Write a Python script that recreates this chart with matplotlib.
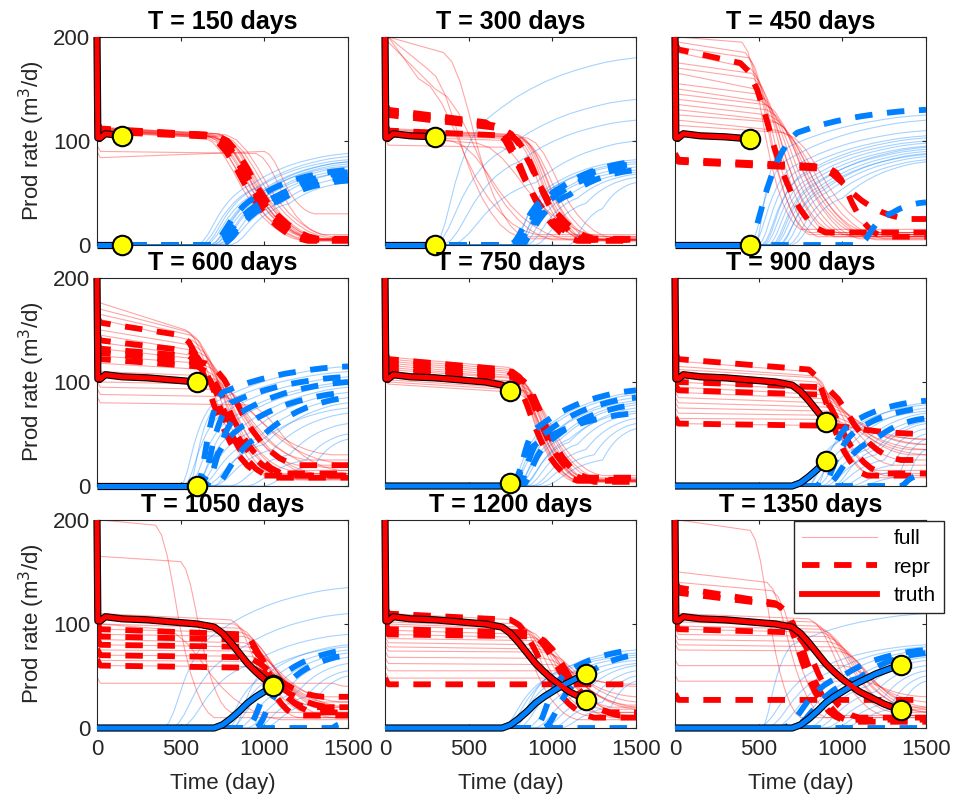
import numpy as np
import matplotlib.pyplot as plt

plt.rcParams['font.family'] = ['Liberation Sans', 'DejaVu Sans']

RED = (1, 0, 0)
BLUE = (0, 0.5, 1)

# czasy zapisu (T) dla kolejnych paneli
T_list = [150, 300, 450, 600, 750, 900, 1050, 1200, 1350]

# rozwiazanie "truth"
truth_t = [0, 5, 20, 50, 150, 300, 450, 600, 700, 750, 800, 850, 900, 950,
           1000, 1050, 1100, 1150, 1200, 1250, 1300, 1350]
truth_oil = [200, 103, 103, 107, 105, 104, 102, 100, 97, 91, 82, 72, 62, 54,
             47, 41, 35, 31, 27, 23, 20, 17]
truth_wat = [0, 0, 0, 0, 0, 0, 0, 0, 0, 3, 9, 16, 24, 30,
             35, 40, 44, 48, 52, 55, 58, 61]

# ensemble ropy: (q start, q przed spadkiem, t poczatku spadku, t konca spadku, q koncowe)
oil_full = [
    [(112, 106, 650, 1250, 5), (110, 105, 680, 1280, 5), (111, 104, 700, 1300, 6), (113, 107, 720, 1320, 5),
     (109, 103, 660, 1250, 4), (110, 104, 740, 1350, 6), (112, 106, 690, 1300, 5), (108, 103, 710, 1300, 5),
     (111, 105, 750, 1380, 7), (110, 104, 630, 1230, 4), (113, 106, 770, 1400, 8), (109, 104, 700, 1340, 6),
     (111, 105, 660, 1300, 5), (112, 107, 730, 1330, 6), (90, 88, 950, 1350, 10), (84, 90, 1000, 1300, 30)],
    [(108, 104, 780, 1200, 5), (110, 106, 800, 1220, 4), (106, 102, 820, 1250, 6), (112, 106, 790, 1200, 5),
     (104, 100, 830, 1300, 5), (109, 104, 810, 1250, 4), (107, 103, 850, 1350, 7), (111, 105, 760, 1180, 5),
     (200, 170, 250, 800, 8), (200, 185, 350, 850, 6), (200, 160, 200, 900, 10), (195, 150, 300, 1000, 5),
     (96, 94, 700, 1200, 5), (108, 100, 400, 1100, 5), (104, 98, 550, 1300, 8)],
    [(200, 195, 400, 750, 15), (195, 185, 420, 800, 12), (190, 180, 440, 800, 10), (185, 170, 450, 850, 8),
     (175, 165, 460, 900, 10), (170, 160, 470, 950, 8), (165, 150, 480, 950, 12), (155, 145, 500, 1000, 10),
     (150, 138, 520, 1050, 8), (145, 135, 540, 1100, 6), (140, 130, 550, 1100, 10), (135, 125, 560, 1150, 8),
     (130, 120, 580, 1200, 5), (125, 118, 600, 1150, 12), (120, 110, 620, 1250, 6), (115, 108, 650, 1300, 8)],
    [(176, 150, 530, 1000, 10), (170, 148, 550, 1050, 8), (165, 145, 560, 1100, 12), (160, 140, 570, 1100, 6),
     (150, 135, 580, 1150, 15), (145, 130, 590, 1200, 20), (138, 125, 600, 1150, 8), (132, 122, 610, 1250, 25),
     (125, 118, 620, 1300, 12), (118, 112, 640, 1200, 6), (110, 106, 650, 1350, 18), (100, 98, 680, 1400, 30),
     (95, 93, 700, 1300, 10), (88, 86, 750, 1450, 22), (80, 78, 900, 1450, 15)],
    [(122, 112, 750, 1150, 5), (120, 110, 760, 1170, 6), (118, 108, 780, 1200, 4), (116, 106, 770, 1150, 5),
     (114, 104, 790, 1210, 6), (112, 103, 800, 1230, 5), (110, 101, 760, 1150, 4), (108, 100, 810, 1250, 7),
     (106, 98, 780, 1190, 5), (104, 96, 820, 1270, 8), (102, 94, 800, 1210, 6), (100, 92, 830, 1300, 10),
     (98, 90, 790, 1200, 5), (124, 114, 740, 1130, 4)],
    [(120, 110, 800, 1200, 8), (115, 106, 820, 1250, 10), (110, 100, 840, 1200, 15), (105, 96, 850, 1300, 20),
     (100, 92, 860, 1350, 25), (95, 88, 870, 1400, 30), (90, 84, 880, 1400, 35), (85, 80, 880, 1450, 40),
     (80, 76, 890, 1450, 45), (75, 72, 900, 1500, 40), (70, 68, 900, 1500, 35), (65, 64, 920, 1500, 30),
     (60, 58, 950, 1500, 45), (112, 104, 850, 1150, 12)],
    [(200, 195, 350, 700, 10), (165, 160, 500, 800, 15), (110, 104, 800, 1200, 10), (105, 100, 820, 1250, 15),
     (100, 96, 850, 1300, 20), (95, 92, 860, 1350, 25), (90, 88, 880, 1400, 15), (85, 82, 880, 1350, 30),
     (80, 78, 900, 1400, 20), (75, 74, 900, 1450, 25), (70, 69, 920, 1400, 10), (65, 64, 950, 1450, 15),
     (60, 59, 950, 1500, 20), (43, 43, 1400, 1500, 40), (100, 95, 400, 1100, 8)],
    [(110, 104, 780, 1200, 12), (106, 100, 800, 1250, 15), (102, 97, 820, 1300, 18), (98, 94, 850, 1350, 20),
     (94, 90, 860, 1350, 10), (90, 87, 880, 1400, 15), (86, 84, 900, 1450, 22), (82, 80, 900, 1450, 12),
     (78, 76, 920, 1500, 18), (74, 73, 950, 1500, 25), (68, 67, 950, 1500, 20), (62, 61, 1000, 1500, 30),
     (55, 55, 1050, 1500, 40), (48, 48, 1100, 1500, 42), (100, 96, 750, 1150, 8)],
    [(200, 190, 450, 750, 10), (150, 140, 550, 900, 10), (140, 132, 580, 950, 12), (110, 105, 800, 1250, 12),
     (106, 102, 820, 1300, 15), (102, 98, 850, 1350, 18), (98, 95, 870, 1400, 20), (95, 92, 880, 1400, 12),
     (90, 88, 900, 1450, 16), (85, 83, 920, 1500, 20), (80, 78, 950, 1500, 15), (75, 74, 980, 1500, 18),
     (60, 60, 1000, 1500, 25), (45, 45, 1100, 1500, 30)],
]

oil_repr = [
    [(110, 106, 680, 1280, 5), (111, 105, 720, 1320, 6), (109, 104, 700, 1300, 5), (112, 106, 650, 1260, 4)],
    [(130, 118, 600, 1200, 5), (128, 115, 650, 1150, 4), (125, 112, 700, 1250, 6), (110, 105, 750, 1200, 5)],
    [(188, 175, 390, 900, 12), (82, 76, 830, 1400, 25), (80, 73, 930, 1250, 8)],
    [(157, 145, 500, 1000, 10), (140, 130, 550, 1050, 8), (132, 125, 550, 1100, 12), (122, 115, 600, 1150, 10),
     (128, 118, 650, 1200, 20)],
    [(122, 112, 720, 1150, 5), (118, 110, 760, 1200, 6), (114, 106, 780, 1250, 4), (110, 104, 800, 1210, 8)],
    [(122, 112, 800, 1150, 10), (92, 88, 850, 1250, 12), (60, 58, 900, 1500, 50), (100, 95, 880, 1350, 25)],
    [(95, 90, 880, 1200, 12), (88, 85, 880, 1250, 20), (80, 78, 900, 1300, 15), (70, 68, 880, 1350, 30),
     (60, 58, 900, 1400, 20)],
    [(110, 104, 750, 1250, 10), (95, 92, 850, 1350, 15), (42, 42, 1400, 1500, 42), (90, 88, 900, 1400, 12)],
    [(135, 120, 600, 1000, 8), (130, 118, 620, 1050, 6), (27, 27, 1400, 1500, 27), (95, 92, 700, 1100, 10)],
]

# ensemble wody: (t przebicia, t kolana, q w kolanie, q koncowe)
wat_full = [
    [(620, 950, 55, 85), (650, 980, 52, 80), (680, 1000, 50, 78), (700, 1020, 48, 75), (720, 1050, 50, 72),
     (600, 920, 58, 88), (750, 1080, 45, 70), (640, 960, 55, 82), (700, 1000, 52, 76), (760, 1100, 40, 65),
     (680, 980, 50, 80), (730, 1040, 46, 70), (800, 1150, 40, 60)],
    [(300, 600, 120, 180), (300, 700, 90, 140), (350, 800, 80, 120), (400, 900, 60, 100), (750, 1000, 55, 80),
     (780, 1050, 52, 75), (800, 1050, 50, 72), (820, 1100, 48, 70), (760, 1000, 58, 82), (850, 1150, 45, 68),
     (800, 1000, 55, 78), (900, 1200, 40, 65), (1100, 1300, 35, 60)],
    [(450, 650, 80, 120), (470, 700, 75, 110), (500, 720, 70, 105), (520, 750, 65, 100), (540, 780, 62, 98),
     (560, 800, 60, 95), (580, 820, 58, 92), (600, 850, 55, 90), (620, 880, 52, 88), (650, 900, 50, 85),
     (680, 950, 48, 82), (700, 1000, 45, 80), (480, 620, 90, 125), (530, 760, 68, 103), (590, 830, 57, 94),
     (630, 870, 54, 87)],
    [(500, 700, 80, 115), (520, 750, 70, 105), (550, 800, 65, 100), (580, 850, 55, 95), (600, 900, 50, 90),
     (620, 950, 45, 85), (650, 1000, 40, 80), (700, 1050, 35, 70), (800, 1150, 30, 60), (900, 1250, 25, 50),
     (1000, 1300, 20, 45), (550, 700, 75, 110), (600, 800, 60, 98), (700, 950, 40, 75)],
    [(750, 950, 55, 90), (760, 1000, 50, 85), (780, 1050, 48, 80), (800, 1050, 45, 78), (820, 1100, 42, 75),
     (850, 1150, 40, 70), (800, 1000, 50, 82), (770, 950, 52, 88), (880, 1200, 35, 65), (900, 1250, 30, 60),
     (950, 1300, 25, 55), (830, 1100, 45, 72)],
    [(800, 1000, 45, 80), (820, 1050, 40, 75), (850, 1100, 38, 70), (880, 1150, 35, 65), (900, 1200, 30, 60),
     (950, 1250, 25, 55), (1000, 1300, 20, 50), (1050, 1350, 15, 45), (1100, 1400, 10, 35), (850, 1000, 50, 78),
     (800, 950, 40, 72), (950, 1200, 35, 62)],
    [(400, 700, 90, 135), (450, 800, 70, 110), (500, 900, 60, 90), (750, 1000, 50, 80), (780, 1050, 48, 75),
     (800, 1100, 45, 72), (850, 1150, 40, 68), (900, 1200, 35, 62), (950, 1250, 30, 55), (1000, 1300, 25, 50),
     (820, 1000, 55, 78)],
    [(700, 1000, 50, 70), (750, 1050, 48, 68), (800, 1100, 45, 65), (850, 1150, 40, 62), (900, 1200, 35, 60),
     (950, 1250, 30, 55), (1000, 1300, 25, 50), (1050, 1350, 20, 45), (780, 1000, 52, 72), (720, 1050, 55, 75)],
    [(500, 900, 60, 80), (550, 950, 55, 78), (600, 1000, 50, 75), (700, 1050, 45, 70), (750, 1100, 42, 68),
     (800, 1150, 40, 65), (850, 1200, 35, 60), (900, 1250, 30, 55), (950, 1300, 25, 50), (1000, 1350, 20, 45),
     (520, 700, 80, 110)],
]

wat_repr = [
    [(700, 1050, 45, 65), (720, 1100, 48, 70), (680, 1000, 50, 72), (740, 1080, 42, 62)],
    [(750, 1000, 50, 78), (780, 1050, 55, 80), (800, 1100, 48, 72), (820, 1000, 45, 75)],
    [(430, 730, 108, 130), (1100, 1300, 31, 41)],
    [(600, 750, 90, 115), (620, 800, 80, 105), (650, 850, 70, 100), (600, 900, 60, 90), (700, 1000, 50, 85)],
    [(780, 900, 55, 92), (800, 950, 50, 85), (820, 1000, 45, 78), (760, 900, 40, 70)],
    [(850, 1050, 60, 82), (880, 1100, 55, 75), (900, 1200, 45, 65), (1350, 1450, 10, 15)],
    [(900, 1100, 50, 75), (950, 1150, 45, 70), (1400, 1480, 5, 8)],
    [(900, 1100, 55, 75), (950, 1200, 50, 70), (1450, 1490, 2, 3)],
    [(650, 1000, 50, 75), (700, 1100, 48, 72), (1450, 1490, 2, 3)],
]

# ksztalt przejscia (ulamek czasu -> ulamek zmiany), zeby krzywe nie byly lamane
step_frac_t = [0, 0.1, 0.2, 0.3, 0.4, 0.5, 0.6, 0.7, 0.8, 0.9, 1]
step_frac_q = [0, 0.05, 0.16, 0.32, 0.5, 0.65, 0.77, 0.86, 0.93, 0.975, 1]
rise_frac_q = [0, 0.06, 0.18, 0.34, 0.5, 0.63, 0.74, 0.83, 0.9, 0.96, 1]
tail_frac_q = [0, 0.19, 0.36, 0.5, 0.62, 0.72, 0.8, 0.87, 0.93, 0.97, 1]


def oil_curve(c):
    qs, qb, t1, t2, qe = c
    t2 = min(t2, 1500)
    x = [0, 20] + [t1 + f * (t2 - t1) for f in step_frac_t] + [1500]
    y = [qs + 6, qs] + [qb + f * (qe - qb) for f in step_frac_q] + [qe]
    return x, y


def wat_curve(c):
    ts, tk, qk, qe = c
    x = [0] + [ts + f * (tk - ts) for f in step_frac_t] + [tk + f * (1500 - tk) for f in step_frac_t[1:]]
    y = [0] + [f * qk for f in rise_frac_q] + [qk + f * (qe - qk) for f in tail_frac_q[1:]]
    return x, y


fig = plt.figure(figsize=(9.54, 8.07), dpi=100)
W, H = 954, 807
lefts = [97, 385, 675]
tops = [37, 278, 520]
aw, ah = 251, 208

for k, T in enumerate(T_list):
    r, c = divmod(k, 3)
    ax = fig.add_axes([lefts[c] / W, 1 - (tops[r] + ah) / H, aw / W, ah / H])

    for cv in oil_full[k]:
        x, y = oil_curve(cv)
        ax.plot(x, y, color=RED, lw=0.8, alpha=0.35)
    for cv in wat_full[k]:
        x, y = wat_curve(cv)
        ax.plot(x, y, color=BLUE, lw=0.8, alpha=0.35)
    for cv in oil_repr[k]:
        x, y = oil_curve(cv)
        ax.plot(x, y, color=RED, lw=4.2, dashes=(3, 2.5))
    for cv in wat_repr[k]:
        x, y = wat_curve(cv)
        ax.plot(x, y, color=BLUE, lw=4.2, dashes=(3, 2.5))

    n = truth_t.index(T) + 1
    tt = truth_t[:n]
    for q, col in [(truth_wat, BLUE), (truth_oil, RED)]:
        ax.plot(tt, q[:n], color='k', lw=5.2, clip_on=False, solid_capstyle='butt', zorder=5)
        ax.plot(tt, q[:n], color=col, lw=3.6, clip_on=False, solid_capstyle='butt', zorder=6)
    ax.plot([T, T], [truth_oil[n - 1], truth_wat[n - 1]], 'o', ms=14, mfc='yellow',
            mec='k', mew=1.5, ls='none', clip_on=False, zorder=7)

    ax.set_xlim(0, 1500)
    ax.set_ylim(0, 200)
    ax.set_xticks([0, 500, 1000, 1500])
    ax.set_yticks([0, 100, 200])
    ax.tick_params(direction='in', length=3, top=True, right=True, labelsize=16, pad=8,
                   colors='#262626', labelbottom=(r == 2), labelleft=(c == 0))
    ax.tick_params(axis='y', pad=5)
    for s in ax.spines.values():
        s.set_color('#262626')
    ax.set_title(f'T = {T} days', fontsize=18, fontweight='bold', pad=6)
    if c == 0:
        ax.set_ylabel('Prod rate (m$^3$/d)', fontsize=16, color='#262626', labelpad=4)
    if r == 2:
        ax.set_xlabel('Time (day)', fontsize=16, color='#262626', labelpad=9)

    if k == 8:
        h1, = ax.plot([], [], color=RED, lw=0.8, alpha=0.35)
        h2, = ax.plot([], [], color=RED, lw=4.2, dashes=(3, 2.5))
        h3, = ax.plot([], [], color=RED, lw=4.2)
        leg = ax.legend([h1, h2, h3], ['full', 'repr', 'truth'], loc='upper right',
                        bbox_to_anchor=(1.072, 0.995), fontsize=15, handlelength=3.6,
                        labelspacing=0.45, fancybox=False, framealpha=1,
                        edgecolor='#262626', borderaxespad=0)
        leg.set_zorder(10)

fig.savefig('out.png', dpi=100)
